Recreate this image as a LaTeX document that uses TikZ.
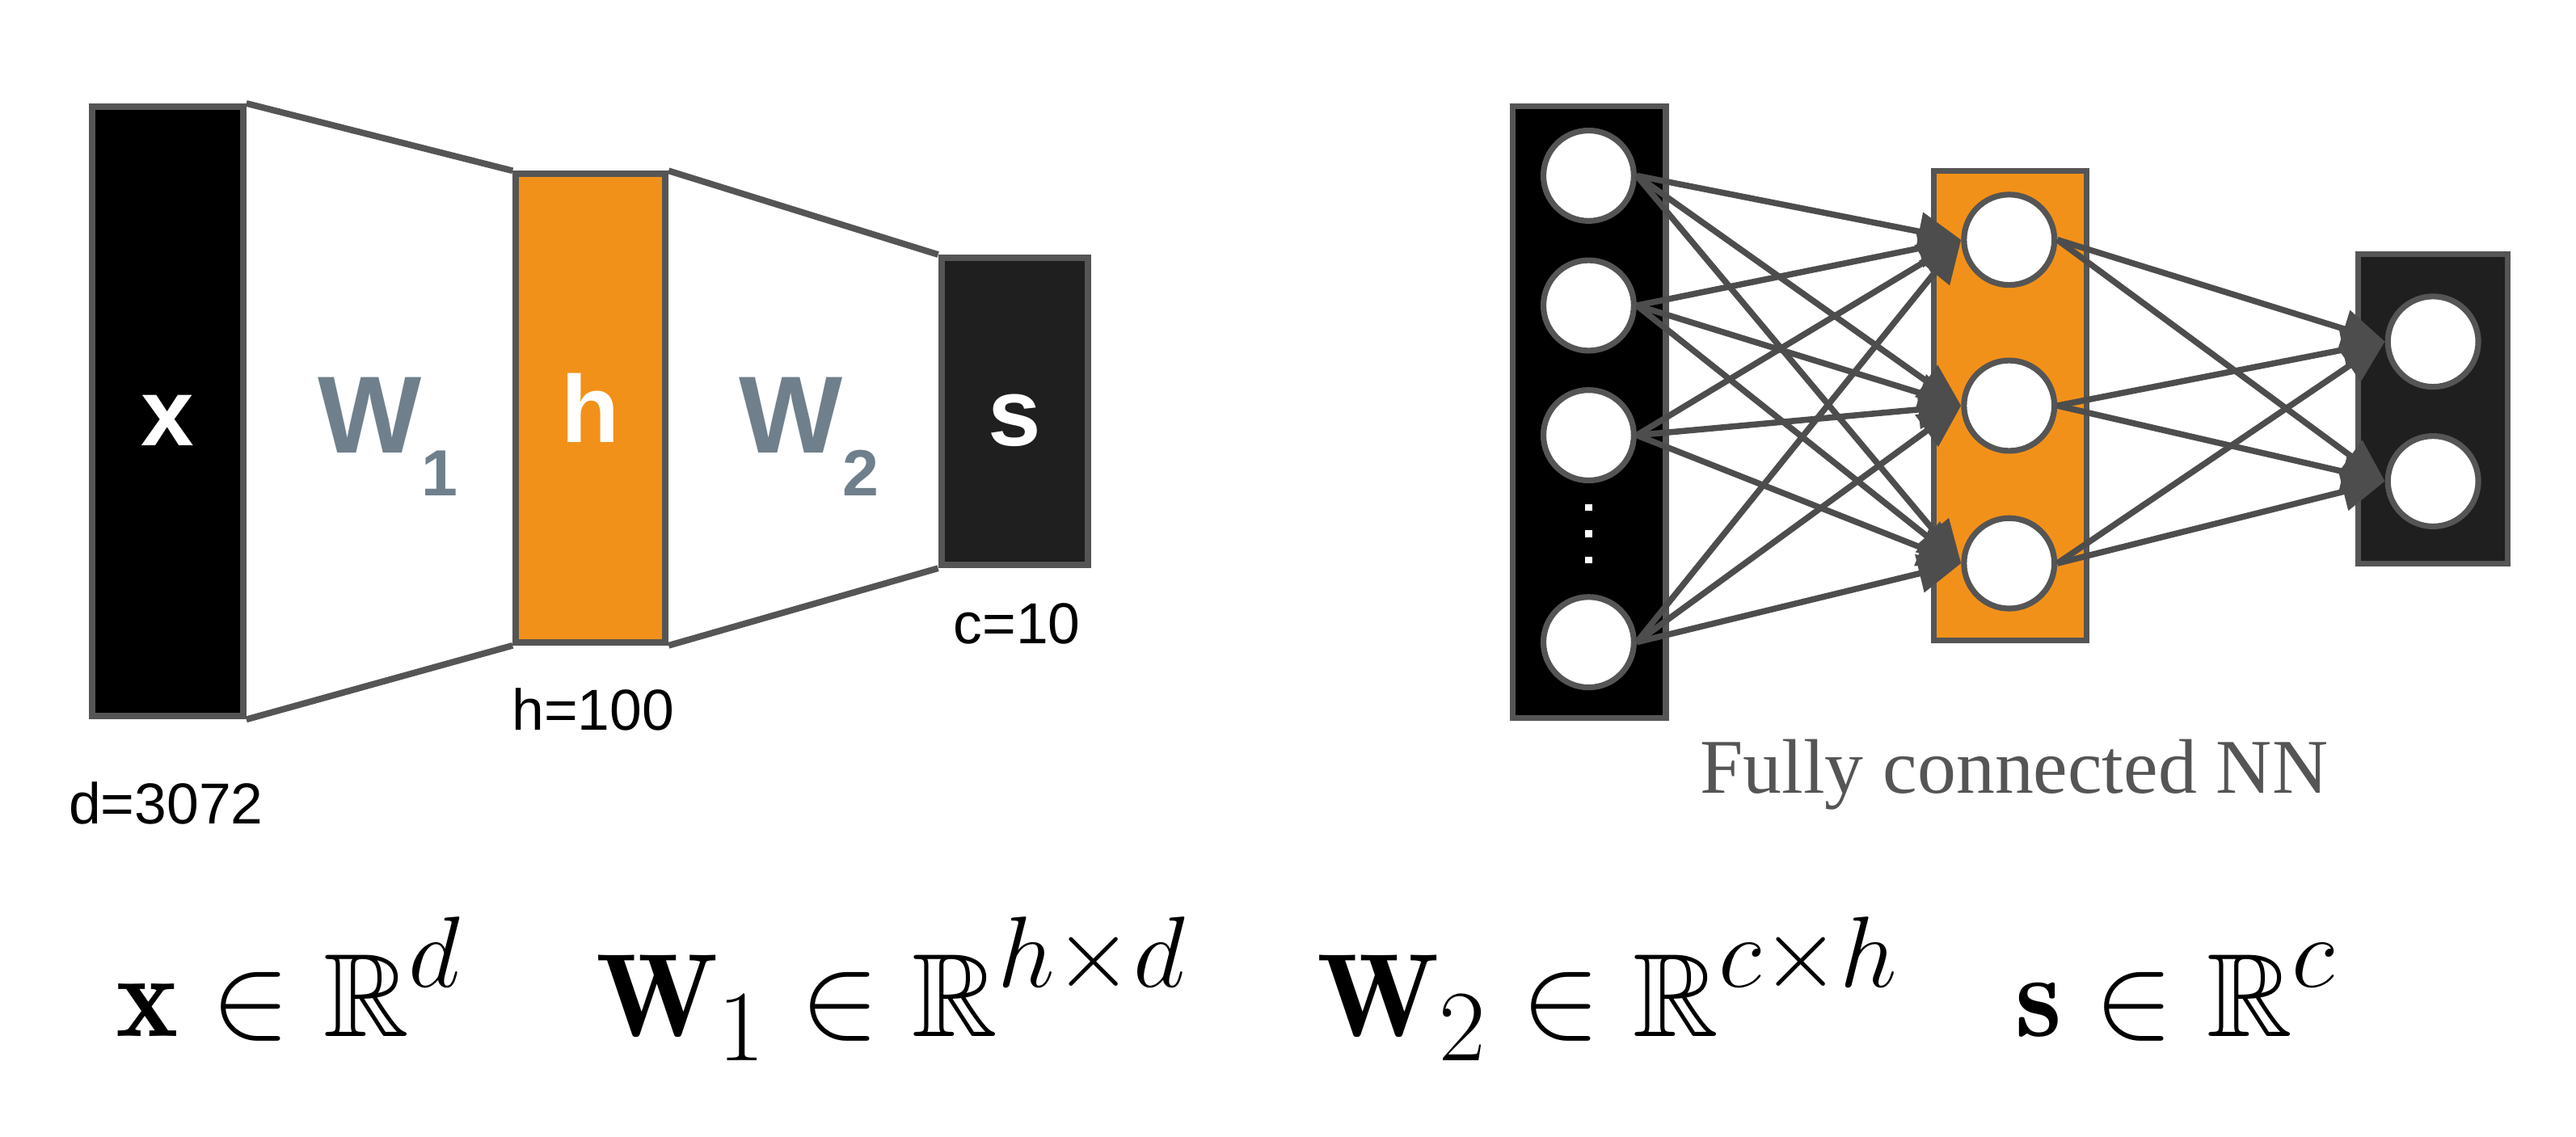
\RequirePackage{fix-cm}
\documentclass[tikz,border=0pt]{standalone}
\usepackage{amsmath,amssymb}
\usepackage{fontspec}
\newfontfamily\labelfont{Liberation Sans}
\newfontfamily\captionfont{Liberation Serif}
\usepackage{xcolor}
\usetikzlibrary{arrows.meta}
\DeclareMathSizes{20.5}{20.5}{17.5}{14}
\definecolor{boxorange}{HTML}{F29119}
\definecolor{boxdark}{HTML}{1F1F1F}
\definecolor{edgegray}{HTML}{555555}
\definecolor{linkgray}{HTML}{4D4D4D}
\definecolor{wgray}{HTML}{6F808C}
\definecolor{capgray}{HTML}{555555}

\begin{document}
\begin{tikzpicture}[x=0.01cm, y=-0.01cm,
			layer/.style={draw=edgegray, line width=1.1pt, inner sep=0pt, text=white,
				text height=0.42cm, text depth=0pt,
				font=\labelfont\bfseries\fontsize{16.5}{18}\selectfont},
			wlabel/.style={inner sep=0pt, text=wgray,
				font=\labelfont\bfseries\fontsize{19}{20}\selectfont},
			dimlabel/.style={inner sep=0pt, font=\labelfont\fontsize{10}{12}\selectfont},
			neuron/.style={circle, draw=edgegray, line width=1pt, fill=white,
				minimum size=0.55cm, inner sep=0pt},
			link/.style={draw=linkgray, line width=1.05pt,
				-{Triangle[length=0.26cm, width=0.23cm]}},
			formula/.style={inner sep=0pt, anchor=base west,
				font=\fontsize{20.5}{25}\selectfont}]
			\useasboundingbox (0,0) rectangle (1568,692);
			% left: layers as boxes, weights as trapezoids between them
			\node[layer, fill=black, minimum width=0.92cm, minimum height=3.71cm]
			(xbox) at (102,250.5) {x};
			\node[layer, fill=boxorange, minimum width=0.91cm, minimum height=2.85cm]
			(hbox) at (359.5,248.5) {h};
			\node[layer, fill=boxdark, minimum width=0.89cm, minimum height=1.87cm]
			(sbox) at (617.5,250.5) {s};
			\draw[edgegray, line width=1.1pt] (xbox.north east) -- (hbox.north west);
			\draw[edgegray, line width=1.1pt] (xbox.south east) -- (hbox.south west);
			\draw[edgegray, line width=1.1pt] (hbox.north east) -- (sbox.north west);
			\draw[edgegray, line width=1.1pt] (hbox.south east) -- (sbox.south west);
			\node[wlabel, anchor=base west] (wone) at (193,276)
			{W\raisebox{-0.26cm}{\fontsize{11.3}{12}\selectfont 1}};
			\node[wlabel, anchor=base west] (wtwo) at (449,276)
			{W\raisebox{-0.26cm}{\fontsize{11.3}{12}\selectfont 2}};
			% sizes of the layers
			\node[dimlabel] (ddim) at (101,489) {d=3072};
			\node[dimlabel] (hdim) at (361,432) {h=100};
			\node[dimlabel] (cdim) at (619,380) {c=10};
			% right: the same net with its neurons
			\node[layer, fill=black, line width=1pt, minimum width=0.93cm, minimum height=3.72cm]
			(inbox) at (967.5,251) {};
			\node[layer, fill=boxorange, line width=1pt, minimum width=0.93cm, minimum height=2.86cm]
			(hidbox) at (1223.5,247) {};
			\node[layer, fill=boxdark, line width=1pt, minimum width=0.91cm, minimum height=1.88cm]
			(outbox) at (1481,249) {};
			\node[neuron] (in1) at (967,107) {};
			\node[neuron] (in2) at (967,186) {};
			\node[neuron] (in3) at (967,265) {};
			\node[neuron] (in4) at (967,391) {};
			\foreach \y in {309,325,341}
			\fill[white] (965,\y-2) rectangle (969,\y+2);
			\node[neuron] (hid1) at (1223,146) {};
			\node[neuron] (hid2) at (1223,247) {};
			\node[neuron] (hid3) at (1223,343) {};
			\node[neuron] (out1) at (1481,208) {};
			\node[neuron] (out2) at (1481,293) {};
			\foreach \i in {1,...,4}
			\foreach \j in {1,2,3}
			\draw[link] (in\i.east) -- (hid\j.west);
			\foreach \j in {1,2,3}
			\foreach \k in {1,2}
			\draw[link] (hid\j.east) -- (out\k.west);
			\node[anchor=base, inner sep=0pt, text=capgray,
			font=\captionfont\fontsize{13.4}{16}\selectfont]
			(fccap) at (1226,483) {Fully connected NN};
			% shapes of x, W1, W2 and s
			\node[formula] (xdim) at (70,631) {$\displaystyle\mathbf{x}\in\mathbb{R}^{d}$};
			\node[formula] (wonedim) at (362,631) {$\displaystyle\mathbf{W}_1\in\mathbb{R}^{h\times d}$};
			\node[formula] (wtwodim) at (801,631) {$\displaystyle\mathbf{W}_2\in\mathbb{R}^{c\times h}$};
			\node[formula] (sdim) at (1226,631) {$\displaystyle\mathbf{s}\in\mathbb{R}^{c}$};
		\end{tikzpicture}
\end{document}
